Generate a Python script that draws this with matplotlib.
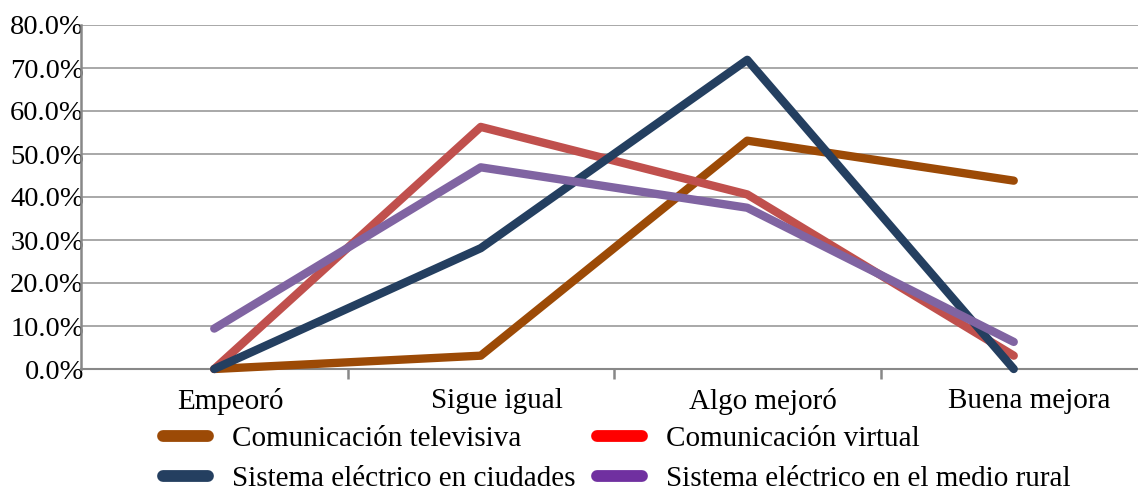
import matplotlib
matplotlib.use("Agg")
import matplotlib.pyplot as plt
import matplotlib.transforms as mtransforms
from matplotlib.lines import Line2D
from matplotlib.ticker import FuncFormatter, FixedLocator

plt.rcParams['font.family'] = ['Liberation Serif', 'DejaVu Serif']

categories = ['Empeoró', 'Sigue igual', 'Algo mejoró', 'Buena mejora']

series_names = ['Comunicación televisiva', 'Comunicación virtual',
                'Sistema eléctrico en ciudades', 'Sistema eléctrico en el medio rural']
tv = [0.0, 3.1, 53.1, 43.8]
virtual = [0.0, 56.3, 40.6, 3.1]
ciudades = [0.0, 28.1, 71.9, 0.0]
rural = [9.4, 46.9, 37.5, 6.3]

line_colors = ['#9C4A06', '#C0504D', '#243F60', '#8064A2']
legend_colors = ['#9C4A06', '#FF0000', '#243F60', '#7030A0']

fig = plt.figure(figsize=(11.38, 4.94), dpi=100)
ax = fig.add_axes([81 / 1138, 125 / 494, 1066 / 1138, 344 / 494])

x = list(range(len(categories)))
for vals, col in zip([tv, virtual, ciudades, rural], line_colors):
    ax.plot(x, vals, color=col, linewidth=6, solid_capstyle='round',
            solid_joinstyle='round', zorder=3, clip_on=False)

ax.set_xlim(-0.5, len(categories) - 0.5)
ax.set_ylim(0, 80)
ax.set_yticks(range(0, 81, 10))
ax.yaxis.set_major_formatter(FuncFormatter(lambda v, p: f'{v:.1f}%'))
ax.grid(axis='y', color='#9A9A9A', linewidth=1.2, zorder=1)

ax.set_xticks(x)
ax.set_xticklabels(categories)
ax.xaxis.set_minor_locator(FixedLocator([0.5, 1.5, 2.5]))
ax.tick_params(axis='x', which='major', length=0, pad=14, labelsize=21)
ax.tick_params(axis='x', which='minor', length=7, width=1.8, color='#888888')
ax.tick_params(axis='y', length=0, pad=-2, labelsize=20.5)

# category labels sit a little to the right of their points
shift = mtransforms.ScaledTranslation(16 / 100, 0, fig.dpi_scale_trans)
for lbl in ax.get_xticklabels():
    lbl.set_transform(lbl.get_transform() + shift)

for s in ['top', 'right']:
    ax.spines[s].set_visible(False)
ax.spines['left'].set_color('#888888')
ax.spines['left'].set_linewidth(1.8)
ax.spines['bottom'].set_color('#888888')
ax.spines['bottom'].set_linewidth(1.5)

# legend entries go column-wise: (tv, ciudades) then (virtual, rural)
order = [0, 2, 1, 3]
handles = [Line2D([0], [0], color=legend_colors[i], linewidth=8.5,
                  solid_capstyle='round') for i in order]
labels = [series_names[i] for i in order]
fig.legend(handles, labels, loc='center', bbox_to_anchor=(0.542, 0.071), ncol=2,
           frameon=False, fontsize=21, handlelength=1.55, handletextpad=0.8,
           columnspacing=0.75, labelspacing=0.48, borderpad=0)

fig.savefig('out.png', dpi=100)
